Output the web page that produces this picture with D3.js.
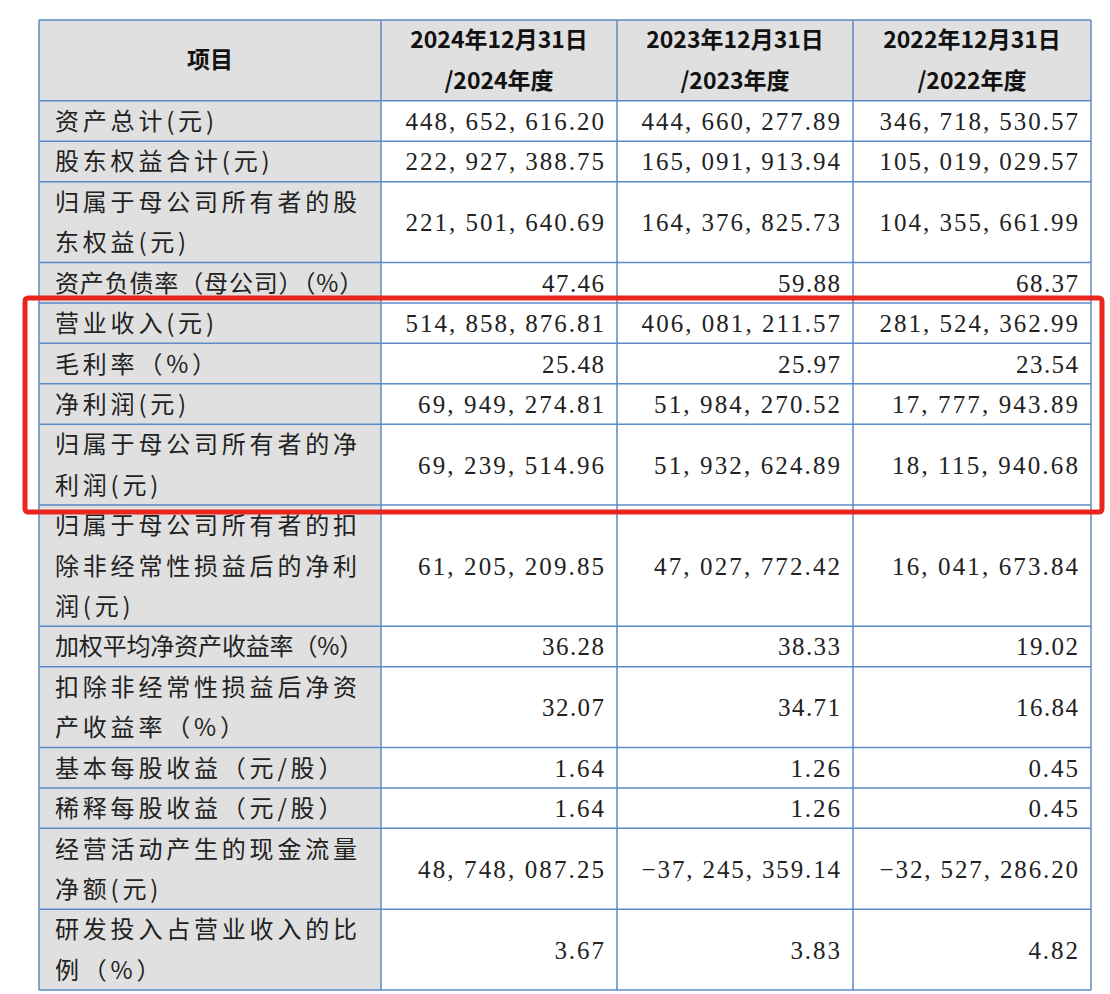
<!DOCTYPE html>
<html>
<head>
<meta charset="utf-8">
<script src="https://cdn.jsdelivr.net/npm/d3@7"></script>
<style>
  body { margin: 0; background: #fff; }
</style>
</head>
<body>
<div class="table-container"></div>
<script>
// header labels
var headers = [["项目"], ["2024年12月31日", "/2024年度"], ["2023年12月31日", "/2023年度"], ["2022年12月31日", "/2022年度"]];

// row labels (wrapped like the source)
var rowLabels = [
    ["资产总计(元)"],
    ["股东权益合计(元)"],
    ["归属于母公司所有者的股", "东权益(元)"],
    ["资产负债率（母公司）（%）"],
    ["营业收入(元)"],
    ["毛利率（%）"],
    ["净利润(元)"],
    ["归属于母公司所有者的净", "利润(元)"],
    ["归属于母公司所有者的扣", "除非经常性损益后的净利", "润(元)"],
    ["加权平均净资产收益率（%）"],
    ["扣除非经常性损益后净资", "产收益率（%）"],
    ["基本每股收益（元/股）"],
    ["稀释每股收益（元/股）"],
    ["经营活动产生的现金流量", "净额(元)"],
    ["研发投入占营业收入的比", "例（%）"]
];

var values2024 = ["448, 652, 616.20", "222, 927, 388.75", "221, 501, 640.69", "47.46", "514, 858, 876.81", "25.48",
    "69, 949, 274.81", "69, 239, 514.96", "61, 205, 209.85", "36.28", "32.07", "1.64", "1.64", "48, 748, 087.25", "3.67"];
var values2023 = ["444, 660, 277.89", "165, 091, 913.94", "164, 376, 825.73", "59.88", "406, 081, 211.57", "25.97",
    "51, 984, 270.52", "51, 932, 624.89", "47, 027, 772.42", "38.33", "34.71", "1.26", "1.26", "-37, 245, 359.14", "3.83"];
var values2022 = ["346, 718, 530.57", "105, 019, 029.57", "104, 355, 661.99", "68.37", "281, 524, 362.99", "23.54",
    "17, 777, 943.89", "18, 115, 940.68", "16, 041, 673.84", "19.02", "16.84", "0.45", "0.45", "-32, 527, 286.20", "4.82"];

// rows inside the red frame
var highlightFrom = 4, highlightTo = 7;

document.addEventListener("DOMContentLoaded", function () {
    var w = 1110, h = 994;
    var blue = "#5b8ac6";
    var grey = "#e0e0e0";
    var cjk = "'Noto Sans CJK SC', sans-serif";
    var num = "'Liberation Serif', 'DejaVu Serif', serif";

    var svg = d3.select(".table-container").append("svg")
        .attr("width", w).attr("height", h);

    // columns
    var colEdges = [39, 381, 617, 853, 1091];

    // rows measured in text-line units
    var units = [2].concat(rowLabels.map(function (d) { return d.length; }));
    var cum = [0];
    units.forEach(function (u, i) { cum.push(cum[i] + u); });
    var y = d3.scaleLinear().domain([0, cum[cum.length - 1]]).range([20, 990]);
    var lineH = y(1) - y(0);

    var rows = units.map(function (u, i) {
        return {
            i: i, y0: y(cum[i]), y1: y(cum[i + 1]),
            label: i === 0 ? null : rowLabels[i - 1],
            vals: i === 0 ? null : [values2024[i - 1], values2023[i - 1], values2022[i - 1]]
        };
    });

    // backgrounds
    svg.append("rect").attr("x", colEdges[0]).attr("y", y(0))
        .attr("width", colEdges[4] - colEdges[0]).attr("height", y(2) - y(0)).attr("fill", grey);
    svg.append("rect").attr("x", colEdges[0]).attr("y", y(2))
        .attr("width", colEdges[1] - colEdges[0]).attr("height", y(cum[cum.length - 1]) - y(2)).attr("fill", grey);

    // header text
    headers.forEach(function (lines, c) {
        var cx = (colEdges[c] + colEdges[c + 1]) / 2;
        var cy = (rows[0].y0 + rows[0].y1) / 2;
        lines.forEach(function (t, k) {
            svg.append("text")
                .attr("x", cx)
                .attr("y", cy + (k - (lines.length - 1) / 2) * lineH + 8)
                .attr("text-anchor", "middle")
                .attr("font-family", cjk)
                .attr("font-weight", "bold")
                .attr("font-size", 23)
                .attr("fill", "#111")
                .text(t);
        });
    });

    // body
    rows.slice(1).forEach(function (r) {
        var cy = (r.y0 + r.y1) / 2;
        r.label.forEach(function (t, k) {
            var lbl = svg.append("text")
                .attr("x", 55)
                .attr("y", cy + (k - (r.label.length - 1) / 2) * lineH + 9)
                .attr("font-family", cjk)
                .attr("font-size", 24)
                .attr("letter-spacing", 3.8)
                .attr("fill", "#222")
                .text(t);
            // squeeze lines with full-width brackets into the cell
            if (lbl.node().getComputedTextLength() > 312) {
                lbl.attr("textLength", 312).attr("lengthAdjust", "spacing");
            }
        });
        r.vals.forEach(function (v, c) {
            svg.append("text")
                .attr("x", colEdges[c + 2] - 13)
                .attr("y", cy + 9)
                .attr("text-anchor", "end")
                .attr("font-family", num)
                .attr("font-size", 25)
                .attr("fill", "#222")
                .attr("textLength", v.length * 12.4)
                .attr("lengthAdjust", "spacing")
                .text(v.replace("-", "−"));
        });
    });

    // grid lines
    svg.selectAll("line.h").data(rows.map(function (r) { return r.y0; }).concat([rows[rows.length - 1].y1]))
        .enter().append("line")
        .attr("x1", colEdges[0]).attr("x2", colEdges[4])
        .attr("y1", function (d) { return d; }).attr("y2", function (d) { return d; })
        .attr("stroke", blue).attr("stroke-width", 1.5);
    svg.selectAll("line.v").data(colEdges)
        .enter().append("line")
        .attr("y1", y(0)).attr("y2", y(cum[cum.length - 1]))
        .attr("x1", function (d) { return d; }).attr("x2", function (d) { return d; })
        .attr("stroke", blue).attr("stroke-width", 1.5);

    // red frame
    var top = rows[highlightFrom + 1].y0 - 5;
    var bottom = rows[highlightTo + 1].y1 + 7;
    svg.append("rect")
        .attr("x", 25).attr("y", top)
        .attr("width", 1102 - 25).attr("height", bottom - top)
        .attr("rx", 3)
        .attr("fill", "none")
        .attr("stroke", "#e8261e")
        .attr("stroke-width", 5);
});
</script>
</body>
</html>
